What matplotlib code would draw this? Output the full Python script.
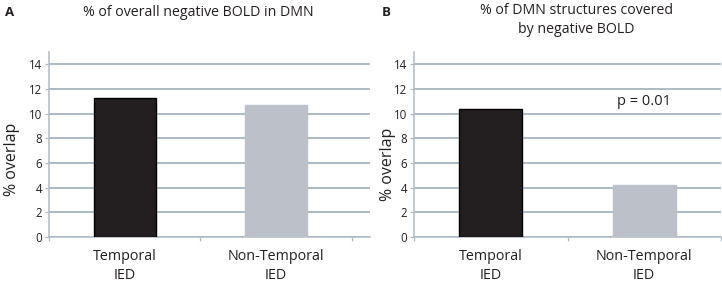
import matplotlib
matplotlib.use("Agg")
import matplotlib.pyplot as plt

categories = ["Temporal\nIED", "Non-Temporal\nIED"]
values_a = [11.3, 10.7]
values_b = [10.4, 4.2]
yticks = [0, 2, 4, 6, 8, 10, 12, 14]
title_a = "% of overall negative BOLD in DMN"
title_b = "% of DMN structures covered\nby negative BOLD"
annot_b = "p = 0.01"
ylabel = "% overlap"

plt.rcParams['font.family'] = ['Open Sans', 'DejaVu Sans']
TXT = '#231F20'
GRID = '#A5B4C0'
SPINE = '#AFBAC5'
DARK = '#231F20'
LIGHT = '#BBC0C9'

W, H = 722, 285
fig = plt.figure(figsize=(W / 100, H / 100), dpi=100)


def px_axes(x0, x1, y0, y1):
    return fig.add_axes([x0 / W, 1 - y1 / H, (x1 - x0) / W, (y1 - y0) / H])


def style(ax, vals, xmax):
    x = list(range(len(vals)))
    ax.set_ylim(0, 15)
    ax.set_xlim(-0.5, xmax)
    ax.set_yticks(yticks)
    ax.yaxis.grid(True, color=GRID, linewidth=1.3)
    ax.set_axisbelow(True)
    ax.bar(x, vals, width=0.41, color=[DARK, LIGHT],
           edgecolor=['#000000', LIGHT], linewidth=1.0, zorder=3)
    ax.set_xticks([-0.5, 0.5, 1.5])
    ax.set_xticklabels([])
    ax.tick_params(axis='x', length=3, color=SPINE, width=0.9)
    ax.tick_params(axis='y', length=3, color=SPINE, width=0.9,
                   labelsize=8.3, labelcolor=TXT, pad=2)
    for i, c in enumerate(categories):
        ax.text(i, -0.95, c, ha='center', va='top', fontsize=10.3,
                color=TXT, linespacing=1.35, transform=ax.transData)
    for s in ['top', 'right']:
        ax.spines[s].set_visible(False)
    for s in ['left', 'bottom']:
        ax.spines[s].set_color(SPINE)
        ax.spines[s].set_linewidth(1.1)


ax1 = px_axes(49, 370, 52, 237)
style(ax1, values_a, 1.62)
ax2 = px_axes(414, 721, 52, 237)
style(ax2, values_b, 1.5)
ax2.text(1.0, 11.0, annot_b, ha='center', va='center', fontsize=10.5, color=TXT)

fig.text(10 / W, 1 - 12 / H, "A", fontsize=9.5, fontweight='bold', color=TXT,
         ha='center', va='center')
fig.text(386 / W, 1 - 12 / H, "B", fontsize=9.5, fontweight='bold', color=TXT,
         ha='center', va='center')
fig.text(198 / W, 1 - 12 / H, title_a, fontsize=10.2, color=TXT,
         ha='center', va='center')
fig.text(576 / W, 1 - 20 / H, title_b, fontsize=10.2, color=TXT,
         ha='center', va='center', linespacing=1.45)
fig.text(12 / W, 1 - 159 / H, ylabel, fontsize=11.5, color=TXT, rotation=90,
         ha='center', va='center')
fig.text(388 / W, 1 - 164 / H, ylabel, fontsize=11.5, color=TXT, rotation=90,
         ha='center', va='center')

fig.savefig("out.png", dpi=100)
